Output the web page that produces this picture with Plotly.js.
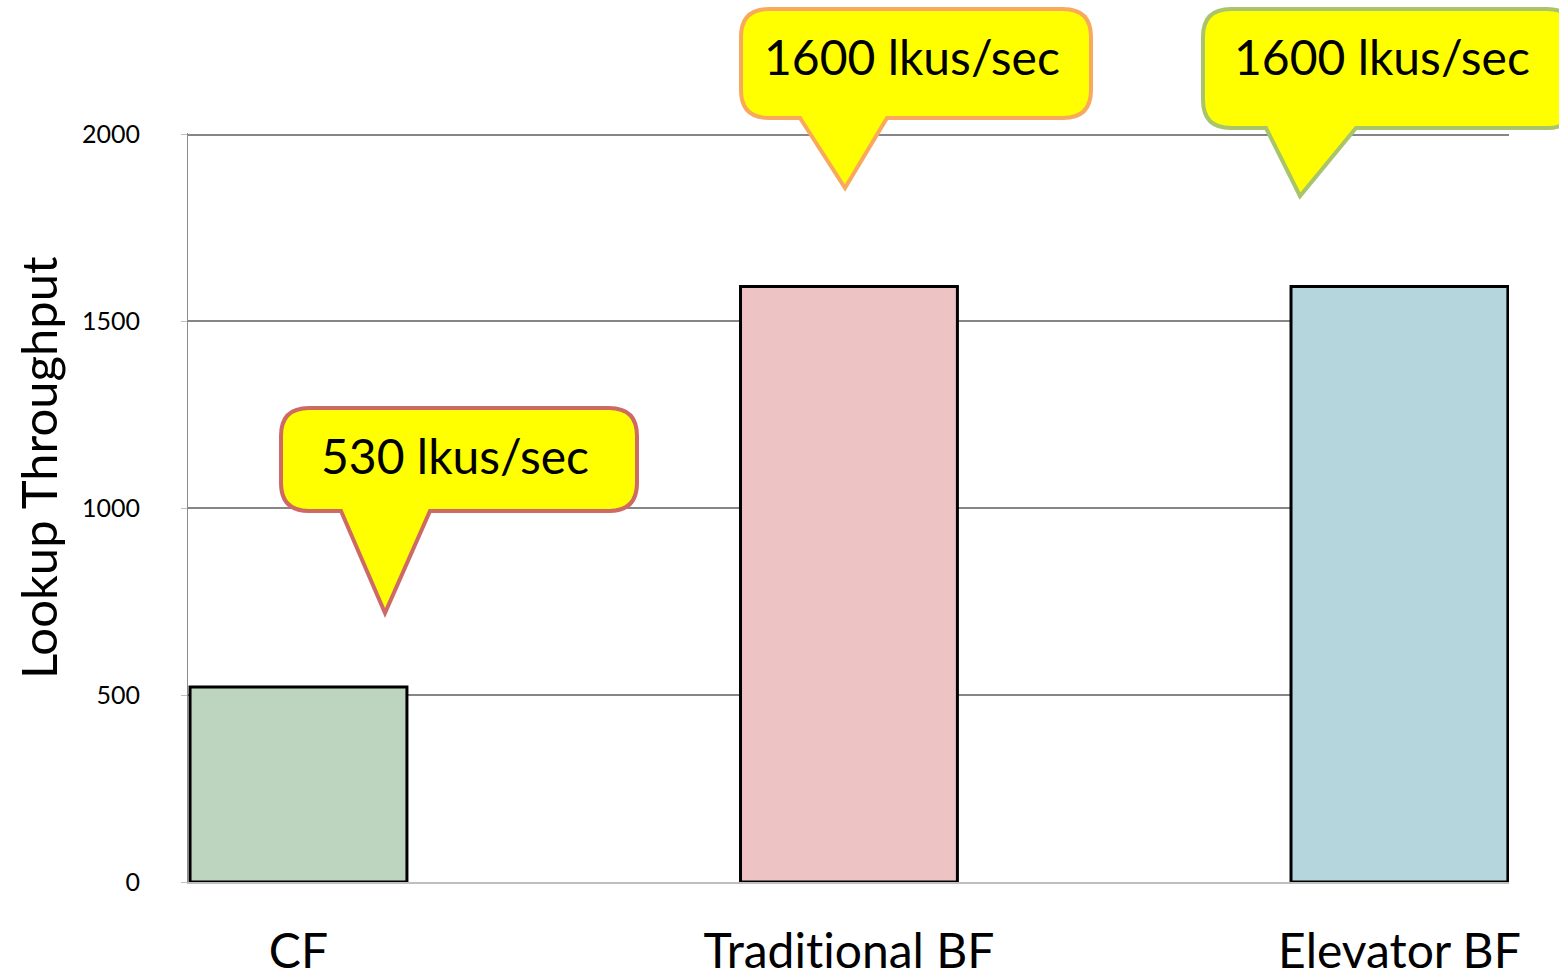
<!DOCTYPE html>
<html>
<head>
<meta charset="utf-8">
<script src="https://cdn.plot.ly/plotly-3.0.1.min.js"></script>
<style>html,body{margin:0;padding:0;background:#fff;}#chart{width:1559px;height:977px;}
#chart text{font-variant-ligatures:none;font-feature-settings:"liga" 0;}</style>
</head>
<body>
<div id="chart"></div>
<script>
// ---- data ----
const categories = ['CF', 'Traditional BF', 'Elevator BF'];
const throughput = [522, 1593, 1593];
const calloutLabels = ['530 lkus/sec', '1600 lkus/sec', '1600 lkus/sec'];
const yTickValues = [0, 500, 1000, 1500, 2000];
const yTickLabels = ['0', '500', '1000', '1500', '2000'];

// ---- styles ----
const barColors = ['#bdd5bf', '#eec3c3', '#b6d6de'];
const calloutBorders = ['#cd6a66', '#f8a95c', '#a9c46b'];
const FONT = 'Lato, "Open Sans", sans-serif';

// plot geometry (pixels)
const W = 1559, H = 977;
const M = {l: 188, r: 50, t: 133, b: 95};
const PW = W - M.l - M.r, PH = H - M.t - M.b;
const px = x => (x - M.l) / PW;
const py = y => (H - M.b - y) / PH;
const P = (x, y) => px(x).toFixed(5) + ',' + py(y).toFixed(5);

// callout box geometry in pixels (layout only)
const calloutGeom = [
  {box: [281, 408, 637, 511], base: [341, 430], tip: [385, 613], text: [455, 455]},
  {box: [741, 9, 1091, 118], base: [800, 887], tip: [845, 188], text: [912, 57]},
  {box: [1203, 9, 1575, 128], base: [1266, 1356], tip: [1300, 196], text: [1382, 57]}
];

function calloutPath(g) {
  const [x0, y0, x1, y1] = g.box;
  const r = 28;
  return 'M' + P(x0 + r, y0) +
    ' L' + P(x1 - r, y0) +
    ' Q' + P(x1, y0) + ' ' + P(x1, y0 + r) +
    ' L' + P(x1, y1 - r) +
    ' Q' + P(x1, y1) + ' ' + P(x1 - r, y1) +
    ' L' + P(g.base[1], y1) +
    ' L' + P(g.tip[0], g.tip[1]) +
    ' L' + P(g.base[0], y1) +
    ' L' + P(x0 + r, y1) +
    ' Q' + P(x0, y1) + ' ' + P(x0, y1 - r) +
    ' L' + P(x0, y0 + r) +
    ' Q' + P(x0, y0) + ' ' + P(x0 + r, y0) + ' Z';
}

const xIdx = categories.map((c, i) => i);

const trace = {
  type: 'bar',
  x: xIdx,
  y: throughput,
  width: 0.394,
  marker: {color: barColors, line: {color: '#000', width: 3}},
  hoverinfo: 'skip',
  showlegend: false
};

const shapes = calloutGeom.map((g, i) => ({
  type: 'path', xref: 'paper', yref: 'paper', layer: 'above',
  path: calloutPath(g),
  fillcolor: '#ffff00',
  line: {color: calloutBorders[i], width: 4}
}));

const annotations = calloutGeom.map((g, i) => ({
  xref: 'paper', yref: 'paper',
  x: px(g.text[0]), y: py(g.text[1]),
  text: calloutLabels[i], showarrow: false,
  font: {family: FONT, size: 48, color: '#000'},
  xanchor: 'center', yanchor: 'middle'
}));
annotations.push({
  xref: 'paper', yref: 'paper',
  x: px(38), y: py(468),
  text: 'Lookup Throughput', showarrow: false, textangle: -90,
  font: {family: FONT, size: 49, color: '#000'},
  xanchor: 'center', yanchor: 'middle'
});

const layout = {
  width: W, height: H,
  margin: M,
  paper_bgcolor: '#fff', plot_bgcolor: '#fff',
  font: {family: FONT, color: '#000'},
  xaxis: {
    range: [-0.2007, 2.199],
    tickvals: xIdx, ticktext: categories,
    tickfont: {family: FONT, size: 48, color: '#000'},
    ticks: '', ticklabelstandoff: 26,
    showgrid: false, zeroline: false,
    showline: true, linecolor: '#bfbfbf', linewidth: 2,
    fixedrange: true
  },
  yaxis: {
    range: [0, 2004],
    tickvals: yTickValues, ticktext: yTickLabels,
    tickfont: {family: FONT, size: 25, color: '#000'},
    ticks: 'outside', ticklen: 6, tickcolor: '#bfbfbf', tickwidth: 1,
    ticklabelstandoff: 36,
    showgrid: true, gridcolor: '#868686', gridwidth: 2,
    zeroline: false,
    showline: true, linecolor: '#8c8c8c', linewidth: 1,
    fixedrange: true
  },
  shapes: shapes,
  annotations: annotations,
  bargap: 0
};

Plotly.newPlot('chart', [trace], layout, {displayModeBar: false, staticPlot: true});
</script>
</body>
</html>
